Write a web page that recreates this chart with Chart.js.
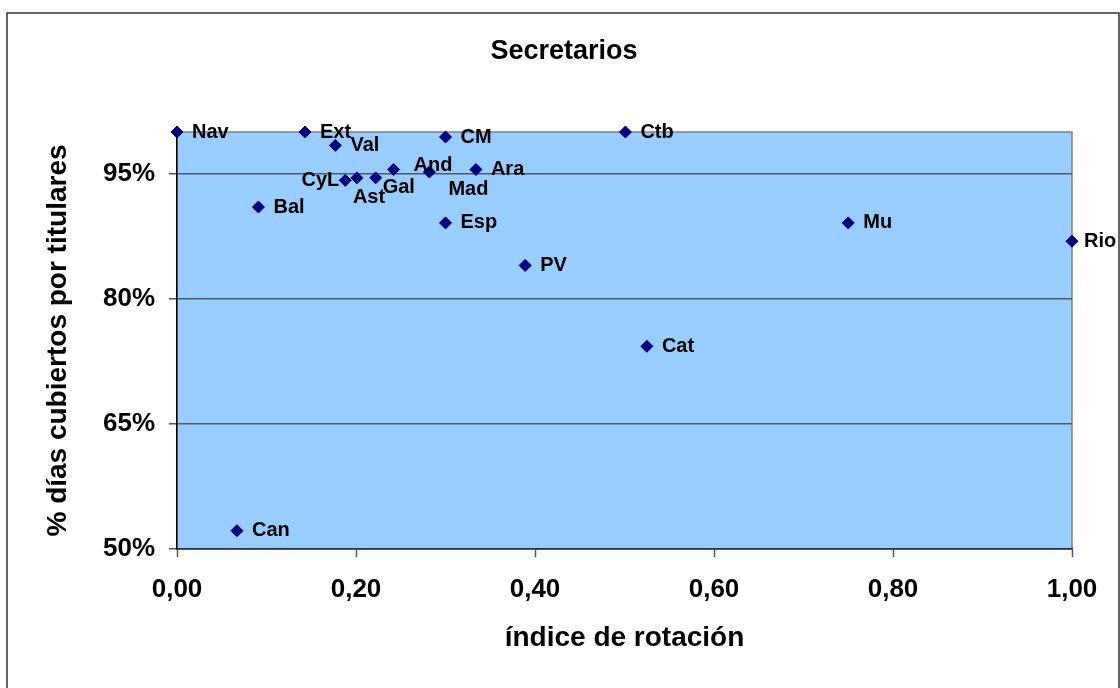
<!DOCTYPE html>
<html lang="es">
<head>
<meta charset="utf-8">
<title>Secretarios</title>
<script src="https://cdn.jsdelivr.net/npm/chart.js@4.4.1/dist/chart.umd.min.js"></script>
<style>
  html, body { margin: 0; padding: 0; background: #fff; }
  #wrap { width: 1120px; height: 688px; }
</style>
</head>
<body>
<div id="wrap"><canvas id="secretariosChart" width="1120" height="688"></canvas></div>
<script>
const regions  = ['Nav', 'Ext', 'Val', 'CM', 'Ctb', 'Bal', 'CyL', 'Ast', 'Gal', 'And', 'Mad', 'Ara', 'Esp', 'PV', 'Cat', 'Mu', 'Rio', 'Can'];
const rotation = [0.000, 0.143, 0.177, 0.300, 0.501, 0.091, 0.188, 0.201, 0.222, 0.242, 0.282, 0.334, 0.300, 0.389, 0.525, 0.750, 1.000, 0.067];
const covered  = [1.000, 1.000, 0.984, 0.994, 1.000, 0.910, 0.942, 0.945, 0.945, 0.955, 0.952, 0.955, 0.891, 0.840, 0.743, 0.891, 0.869, 0.522];
const xTicks = [0, 0.2, 0.4, 0.6, 0.8, 1];
const yTicks = [0.5, 0.65, 0.8, 0.95];

// labels that were moved by hand in the original: [dx, dy, align]
const labelNudge = {
  CyL: [-6, 0, 'right'],
  Ast: [-4, 20, 'left'],
  Gal: [7, 10, 'left'],
  And: [20, -4, 'left'],
  Mad: [19, 17, 'left'],
  Rio: [12, 0, 'left']
};

const FONT = "'Liberation Sans', Arial, sans-serif";

const plotFrame = {
  id: 'plotFrame',
  beforeDraw(chart) {
    const { ctx, chartArea: a } = chart;
    ctx.save();
    ctx.fillStyle = '#fff';
    ctx.fillRect(0, 0, chart.width, chart.height);
    ctx.strokeStyle = '#333';
    ctx.lineWidth = 1.5;
    ctx.strokeRect(7, 13, 1112, 700);

    ctx.fillStyle = '#99ccff';
    ctx.fillRect(a.left, a.top, a.width, a.height);
    ctx.strokeStyle = '#808080';
    ctx.strokeRect(a.left, a.top, a.width, a.height);

    ctx.fillStyle = '#000';
    ctx.font = 'bold 27px ' + FONT;
    ctx.textAlign = 'center';
    ctx.textBaseline = 'alphabetic';
    ctx.fillText('Secretarios', 564, 59);
    ctx.restore();
  },
  afterDatasetsDraw(chart) {
    const { ctx } = chart;
    const meta = chart.getDatasetMeta(0);
    ctx.save();
    ctx.fillStyle = '#000';
    ctx.font = 'bold 20px ' + FONT;
    ctx.textBaseline = 'middle';
    meta.data.forEach((pt, i) => {
      const [dx, dy, align] = labelNudge[regions[i]] || [15, 0, 'left'];
      ctx.textAlign = align;
      ctx.fillText(regions[i], pt.x + dx, pt.y + dy);
    });
    ctx.restore();
  }
};

document.addEventListener('DOMContentLoaded', function() {
  Chart.defaults.font.family = FONT;
  Chart.defaults.color = '#000';

  const ctx = document.getElementById('secretariosChart').getContext('2d');
  new Chart(ctx, {
    type: 'scatter',
    data: {
      datasets: [{
        label: 'Secretarios',
        data: rotation.map((x, i) => ({ x: x, y: covered[i] })),
        pointStyle: 'rectRot',
        pointRadius: 6,
        pointHoverRadius: 6,
        backgroundColor: '#000080',
        borderColor: '#000080',
        borderWidth: 1,
        clip: false
      }]
    },
    options: {
      responsive: false,
      animation: false,
      layout: {
        padding: { top: 132, right: 48, bottom: 0, left: 0 },
        autoPadding: false
      },
      plugins: {
        legend: { display: false },
        tooltip: { enabled: false },
        title: { display: false }
      },
      scales: {
        x: {
          type: 'linear',
          position: 'bottom',
          min: 0,
          max: 1,
          afterBuildTicks: s => { s.ticks = xTicks.map(v => ({ value: v })); },
          afterFit: s => { s.height = 139; },
          ticks: {
            font: { size: 26, weight: 'bold' },
            color: '#000',
            padding: 17,
            maxRotation: 0,
            autoSkip: false,
            callback: v => v.toFixed(2).replace('.', ',')
          },
          grid: {
            drawOnChartArea: false,
            tickLength: 8,
            tickColor: '#555',
            tickWidth: 1.5
          },
          border: { color: '#333', width: 1.5 },
          title: {
            display: true,
            text: 'índice de rotación',
            font: { size: 28, weight: 'bold' },
            color: '#000',
            padding: { top: 0, bottom: 33 }
          }
        },
        y: {
          type: 'linear',
          min: 0.5,
          max: 1,
          afterBuildTicks: s => { s.ticks = yTicks.map(v => ({ value: v })); },
          afterFit: s => { s.width = 177; },
          ticks: {
            font: { size: 26, weight: 'bold' },
            color: '#000',
            padding: 14,
            autoSkip: false,
            callback: v => Math.round(v * 100) + '%'
          },
          grid: {
            color: '#4f5a66',
            lineWidth: 1.5,
            tickLength: 8,
            tickColor: '#555',
            tickWidth: 1.5
          },
          border: { color: '#000', width: 1.5 },
          title: {
            display: true,
            text: '% días cubiertos por titulares',
            font: { size: 28, weight: 'bold' },
            color: '#000',
            padding: { top: 41, bottom: 0 }
          }
        }
      }
    },
    plugins: [plotFrame]
  });
});
</script>
</body>
</html>
